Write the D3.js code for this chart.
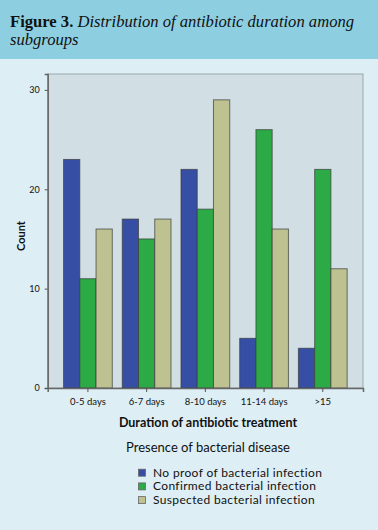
<!DOCTYPE html>
<html><head><meta charset="utf-8">
<script src="https://cdn.jsdelivr.net/npm/d3@7"></script>
<style>
html,body{margin:0;padding:0;background:#DDEEF5;}
svg{display:block;}
</style></head>
<body>
<script>
const categories = ["0-5 days","6-7 days","8-10 days","11-14 days",">15"];
const seriesNames = ["No proof of bacterial infection","Confirmed bacterial infection","Suspected bacterial infection"];
const noProof = [23,17,22,5,4];
const confirmed = [11,15,18,26,22];
const suspected = [16,17,29,16,12];
const yTicks = [0,10,20,30];
const colors = ["#364EA4","#2BAA46","#BDC290"];

(function(){
const W=378,H=530;
const svg=d3.select("body").append("svg").attr("width",W).attr("height",H);
svg.append("rect").attr("width",W).attr("height",H).attr("fill","#DDEEF5");
svg.append("rect").attr("width",W).attr("height",59).attr("fill","#8DCFE1");

const tf="'Liberation Serif','DejaVu Serif',serif";
const title=svg.append("text").attr("x",10).attr("y",27)
  .attr("font-family",tf).attr("font-size",16.6).attr("fill","#111");
title.append("tspan").attr("font-weight","bold").text("Figure 3. ");
title.append("tspan").attr("font-style","italic").text("Distribution of antibiotic duration among");
svg.append("text").attr("x",10).attr("y",45).attr("font-family",tf)
  .attr("font-size",16.6).attr("font-style","italic").attr("fill","#111").text("subgroups");

const pL=47.7,pR=363,pT=74,pB=388;
const y=d3.scaleLinear().domain([0,31.6]).range([pB,pT]);
const x0=d3.scaleBand().domain(categories).range([pL,pR]).paddingInner(0.17).paddingOuter(0.27);
const x1=d3.scaleBand().domain(seriesNames).range([0,x0.bandwidth()]);

svg.append("rect").attr("x",pL).attr("y",pT).attr("width",pR-pL).attr("height",pB-pT)
  .attr("fill","#D1DFE5").attr("stroke","#9aa7ad").attr("stroke-width",1);

const data=categories.map((c,i)=>({cat:c,vals:[noProof[i],confirmed[i],suspected[i]]}));
const g=svg.append("g");
data.forEach(d=>{
  d.vals.forEach((v,j)=>{
    g.append("rect").attr("x",x0(d.cat)+x1(seriesNames[j])).attr("y",y(v))
     .attr("width",x1.bandwidth()).attr("height",y(0)-y(v))
     .attr("fill",colors[j]).attr("stroke","#3a3a3a").attr("stroke-opacity",0.7).attr("stroke-width",1);
  });
});

const font="'Lato','Open Sans',sans-serif";
const ya=svg.append("g").attr("transform",`translate(${pL},0)`)
  .call(d3.axisLeft(y).tickValues(yTicks).tickSize(3).tickPadding(5).tickFormat(d3.format("d")));
ya.select(".domain").attr("stroke","#666").attr("stroke-width",1.5);
ya.selectAll(".tick line").attr("stroke","#555");
ya.selectAll("text").attr("font-family",font).attr("font-size",9).attr("fill","#111");
const xa=svg.append("g").attr("transform",`translate(0,${pB})`)
  .call(d3.axisBottom(x0).tickSize(4).tickPadding(6));
xa.select(".domain").attr("stroke","#666").attr("stroke-width",1.5);
xa.selectAll(".tick line").attr("stroke","#555");
xa.selectAll("text").attr("font-family",font).attr("font-size",9.5).attr("fill","#111");

svg.append("text").attr("transform","translate(25,236) rotate(-90)").attr("text-anchor","middle")
  .attr("font-family",font).attr("font-weight","bold").attr("font-size",11).attr("fill","#111").text("Count");
svg.append("text").attr("x",208).attr("y",427).attr("text-anchor","middle")
  .attr("font-family",font).attr("font-weight","bold").attr("font-size",12.5).attr("fill","#111")
  .text("Duration of antibiotic treatment");
svg.append("text").attr("x",208).attr("y",452).attr("text-anchor","middle")
  .attr("font-family",font).attr("font-size",13).attr("fill","#111").text("Presence of bacterial disease");

const lg=svg.append("g");
seriesNames.forEach((s,i)=>{
  const base=476.7+i*13.7;
  lg.append("rect").attr("x",138.5).attr("y",base-7.5).attr("width",7).attr("height",7)
    .attr("fill",colors[i]).attr("stroke","#666").attr("stroke-width",0.8);
  lg.append("text").attr("x",153).attr("y",base).attr("font-family",font).attr("font-size",12)
    .attr("letter-spacing",0.35).attr("fill","#111").text(s);
});
})();
</script>
</body></html>
